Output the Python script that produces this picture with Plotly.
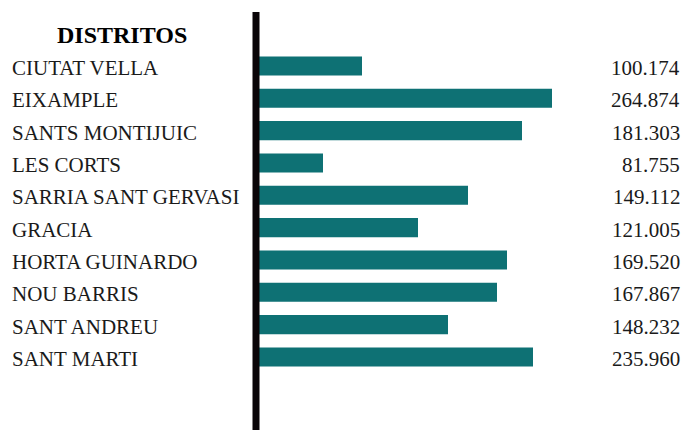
import plotly.graph_objects as go

# Districts of Barcelona, top to bottom
districts = [
    "CIUTAT VELLA", "EIXAMPLE", "SANTS MONTIJUIC", "LES CORTS",
    "SARRIA SANT GERVASI", "GRACIA", "HORTA GUINARDO", "NOU BARRIS",
    "SANT ANDREU", "SANT MARTI",
]
# bar lengths (chart units)
bar_values = [106, 296, 266, 67, 212, 162, 251, 241, 192, 277]
# figures printed at the right
value_labels = [
    "100.174", "264.874", "181.303", "81.755", "149.112",
    "121.005", "169.520", "167.867", "148.232", "235.960",
]

W, H = 683, 430
TEAL = "#0E7174"
SERIF = "Liberation Serif, Times New Roman, serif"

positions = list(range(len(districts)))

fig = go.Figure(go.Bar(
    x=bar_values,
    y=positions,
    orientation="h",
    width=0.59,
    marker=dict(color=TEAL, line=dict(width=0)),
    hoverinfo="skip",
))

# district names on the left, numbers on the right
for pos, name, val in zip(positions, districts, value_labels):
    fig.add_annotation(x=10 / W, xref="paper", y=pos, yref="y", text=name,
                       xanchor="left", yanchor="middle", showarrow=False, yshift=-2,
                       font=dict(family=SERIF, size=21, color="#1a1a1a"))
    fig.add_annotation(x=682 / W, xref="paper", y=pos, yref="y", text=val,
                       xanchor="right", yanchor="middle", showarrow=False, yshift=-2,
                       font=dict(family=SERIF, size=21, color="#1a1a1a"))

fig.add_annotation(x=122 / W, xref="paper", y=1 - 35 / H, yref="paper",
                   text="<b>DISTRITOS</b>", xanchor="center", yanchor="middle",
                   showarrow=False, font=dict(family=SERIF, size=24, color="#000000"))

# thick black separator
fig.add_shape(type="line", xref="paper", yref="paper",
              x0=256 / W, x1=256 / W, y0=0, y1=1 - 12 / H,
              line=dict(color="#0A0508", width=7), layer="above")

fig.update_layout(
    width=W, height=H,
    margin=dict(l=0, r=0, t=0, b=0),
    paper_bgcolor="white", plot_bgcolor="white",
    showlegend=False,
    xaxis=dict(domain=[256 / W, 1], range=[0, W - 256], visible=False, fixedrange=True),
    yaxis=dict(range=[11.26, -2.041], visible=False, fixedrange=True),
)

# drop the page's default body margin so the figure sits at the window corner
fig.write_html("out.html", config={"displayModeBar": False},
               post_script="document.body.style.margin='0';")
